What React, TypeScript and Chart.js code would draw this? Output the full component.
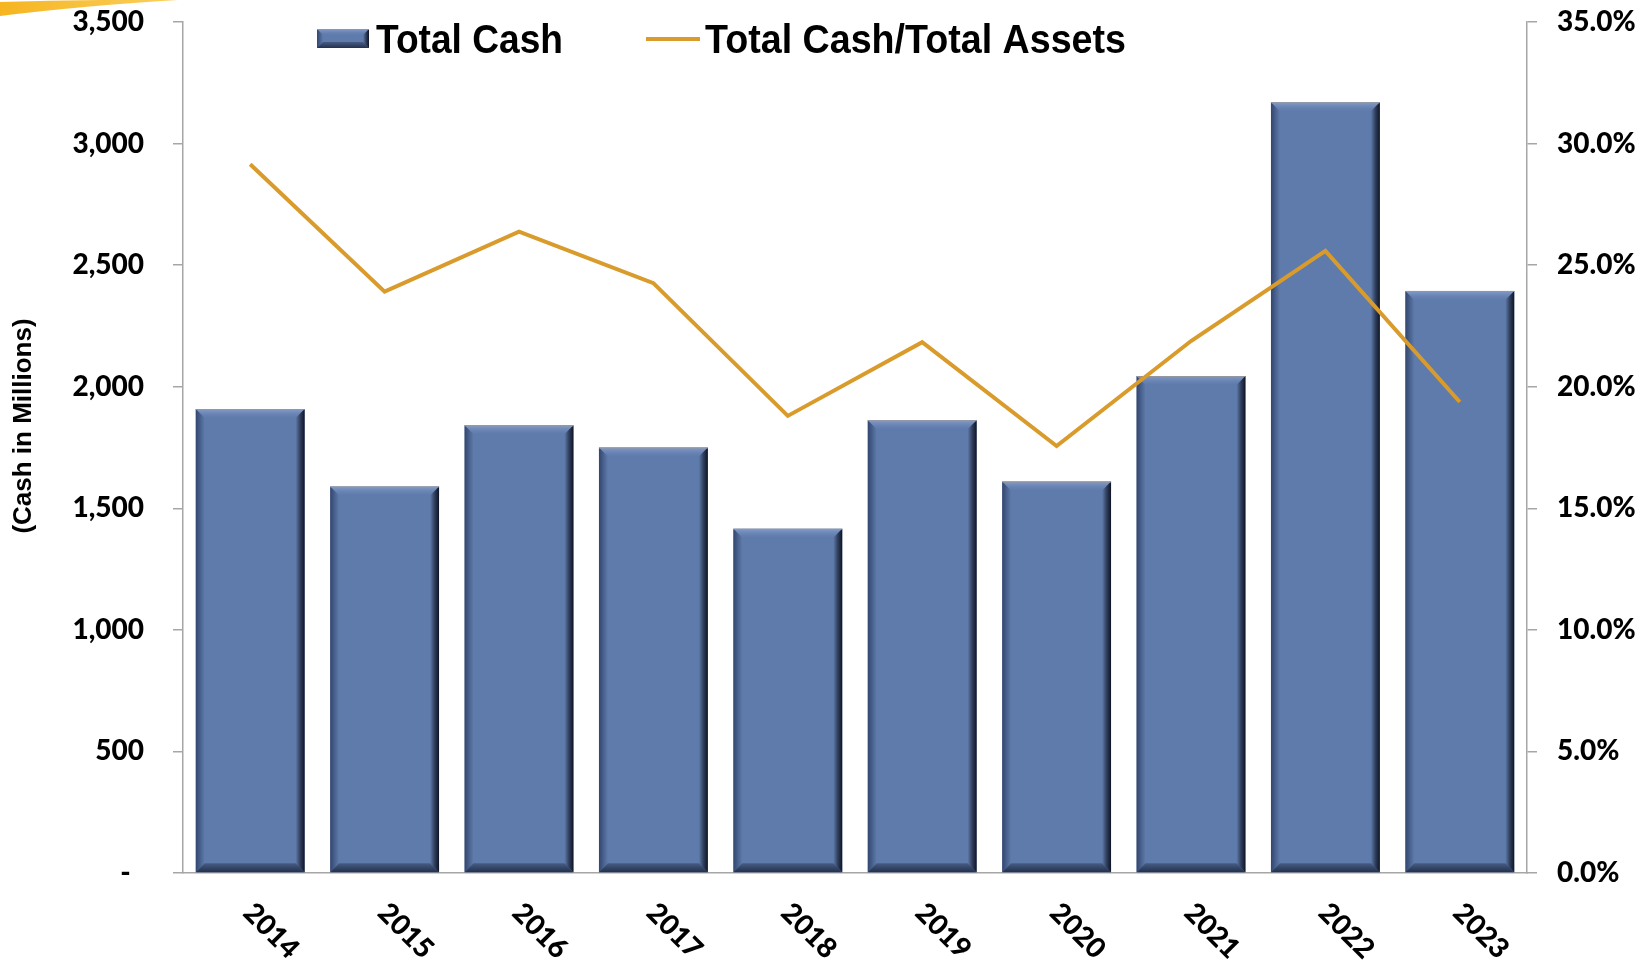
import React, { useEffect, useRef } from 'react';
import { Chart, registerables } from 'chart.js';

Chart.register(...registerables);

const categories = ['2014', '2015', '2016', '2017', '2018', '2019', '2020', '2021', '2022', '2023'];
const totalCash = [1908, 1590, 1841, 1750, 1416, 1862, 1610, 2044, 3170, 2394];
const cashToAssets = [29.15, 23.91, 26.38, 24.26, 18.8, 21.83, 17.56, 21.88, 25.59, 19.37];
const seriesNames = ['Total Cash', 'Total Cash/Total Assets'];
const yAxisTitle = '(Cash in Millions)';

const BAR = '#5F7BAB';
const LINE = '#D99B2B';
const AXIS = '#A6A6A6';
const NUM_FONT = 'Lato';
const NUM_WEIGHT = '900';
const TXT_FONT = '"Liberation Sans", Arial, sans-serif';

function poly(ctx: CanvasRenderingContext2D, pts: number[][], fill: any) {
  ctx.beginPath();
  ctx.moveTo(pts[0][0], pts[0][1]);
  for (let i = 1; i < pts.length; i++) ctx.lineTo(pts[i][0], pts[i][1]);
  ctx.closePath();
  ctx.fillStyle = fill;
  ctx.fill();
}

function bevel(ctx: CanvasRenderingContext2D, l: number, t: number, r: number, btm: number, bw: number) {
  if (![l, t, r, btm].every((v) => Number.isFinite(v))) return;
  const w = r - l;
  const h = btm - t;
  const b = Math.min(bw, w / 2, h / 2);
  ctx.save();
  let g = ctx.createLinearGradient(0, t, 0, t + b);
  g.addColorStop(0, 'rgba(140,162,205,0.85)');
  g.addColorStop(1, 'rgba(110,138,188,0)');
  poly(ctx, [[l, t], [r, t], [r - b, t + b], [l + b, t + b]], g);
  g = ctx.createLinearGradient(l, 0, l + b, 0);
  g.addColorStop(0, 'rgba(35,52,90,0.75)');
  g.addColorStop(1, 'rgba(35,52,90,0)');
  poly(ctx, [[l, t], [l + b, t + b], [l + b, btm - b], [l, btm]], g);
  g = ctx.createLinearGradient(r - b, 0, r, 0);
  g.addColorStop(0, 'rgba(10,15,30,0)');
  g.addColorStop(0.5, 'rgba(10,15,30,0.55)');
  g.addColorStop(1, 'rgba(10,15,30,0.95)');
  poly(ctx, [[r, t], [r, btm], [r - b, btm - b], [r - b, t + b]], g);
  g = ctx.createLinearGradient(0, btm - b, 0, btm);
  g.addColorStop(0, 'rgba(25,35,60,0.35)');
  g.addColorStop(1, 'rgba(25,35,60,0.85)');
  poly(ctx, [[l, btm], [l + b, btm - b], [r - b, btm - b], [r, btm]], g);
  ctx.strokeStyle = 'rgba(150,150,155,0.9)';
  ctx.lineWidth = 1;
  ctx.beginPath();
  ctx.moveTo(l, t + 0.5);
  ctx.lineTo(r, t + 0.5);
  ctx.stroke();
  ctx.restore();
}

const decorPlugin = {
  id: 'decor',
  beforeDraw(chart: any) {
    const ctx: CanvasRenderingContext2D = chart.ctx;
    ctx.save();
    ctx.fillStyle = '#ffffff';
    ctx.fillRect(0, 0, chart.width, chart.height);
    const g = ctx.createLinearGradient(0, 0, 180, 0);
    g.addColorStop(0, '#F6B520');
    g.addColorStop(1, '#FAD060');
    ctx.beginPath();
    ctx.moveTo(0, 2);
    ctx.lineTo(0, 16);
    ctx.quadraticCurveTo(80, 6, 178, 0);
    ctx.lineTo(100, 0);
    ctx.quadraticCurveTo(50, 0.5, 0, 2);
    ctx.closePath();
    ctx.fillStyle = g;
    ctx.fill();
    ctx.restore();
  },
  afterDatasetDraw(chart: any, args: any) {
    const meta = chart.getDatasetMeta(args.index);
    if (meta.type !== 'bar') return;
    const ctx: CanvasRenderingContext2D = chart.ctx;
    meta.data.forEach((el: any) => {
      const p = el.getProps(['x', 'y', 'base', 'width'], true);
      bevel(ctx, p.x - p.width / 2, p.y, p.x + p.width / 2, p.base, 9);
    });
  },
  afterDraw(chart: any) {
    const ctx: CanvasRenderingContext2D = chart.ctx;
    const xs = chart.scales.x;
    ctx.save();
    ctx.fillStyle = '#000';
    ctx.font = `${NUM_WEIGHT} 28px ${NUM_FONT}`;
    ctx.textAlign = 'center';
    ctx.textBaseline = 'middle';
    categories.forEach((c, i) => {
      const x = xs.getPixelForValue(i) + 21;
      ctx.save();
      ctx.translate(x, 931);
      ctx.rotate(Math.PI / 4);
      ctx.fillText(c, 0, 0);
      ctx.restore();
    });
    ctx.save();
    ctx.font = `bold 26px ${TXT_FONT}`;
    ctx.translate(24, 426);
    ctx.rotate(-Math.PI / 2);
    ctx.fillText(yAxisTitle, 0, 0);
    ctx.restore();
    // legend
    ctx.fillStyle = BAR;
    ctx.fillRect(317, 29, 52, 19);
    bevel(ctx, 317, 29, 369, 48, 6);
    ctx.strokeStyle = LINE;
    ctx.lineWidth = 4;
    ctx.beginPath();
    ctx.moveTo(646, 39);
    ctx.lineTo(700, 39);
    ctx.stroke();
    ctx.fillStyle = '#000';
    ctx.textAlign = 'left';
    ctx.textBaseline = 'alphabetic';
    ctx.font = `bold 41px ${TXT_FONT}`;
    const drawSquashed = (txt: string, x: number, target: number) => {
      const w = ctx.measureText(txt).width;
      ctx.save();
      ctx.translate(x, 53);
      ctx.scale(target / w, 1);
      ctx.fillText(txt, 0, 0);
      ctx.restore();
    };
    drawSquashed(seriesNames[0], 376, 187);
    drawSquashed(seriesNames[1], 705, 421);
    ctx.restore();
  },
};

const noPad = (s: any, w: number) => {
  s.width = w;
  s.paddingTop = 0;
  s.paddingBottom = 0;
};

export default function App() {
  const ref = useRef<HTMLCanvasElement | null>(null);
  useEffect(() => {
    document.body.style.margin = '0';
    if (!ref.current) return;
    const chart = new Chart(ref.current, {
      type: 'bar',
      data: {
        labels: categories,
        datasets: [
          {
            type: 'line',
            label: seriesNames[1],
            data: cashToAssets,
            yAxisID: 'y1',
            borderColor: LINE,
            backgroundColor: LINE,
            borderWidth: 4,
            pointRadius: 0,
            tension: 0,
            order: 0,
          } as any,
          {
            type: 'bar',
            label: seriesNames[0],
            data: totalCash,
            yAxisID: 'y',
            backgroundColor: BAR,
            borderWidth: 0,
            barPercentage: 0.81,
            categoryPercentage: 1,
            order: 1,
          },
        ],
      },
      options: {
        responsive: false,
        animation: false,
        devicePixelRatio: 1,
        layout: { padding: { top: 22, left: 0, right: 0, bottom: 0 } },
        plugins: { legend: { display: false }, tooltip: { enabled: false } },
        scales: {
          x: {
            offset: true,
            grid: { display: false },
            border: { display: true, color: AXIS, width: 1.5 },
            ticks: { display: false },
            afterFit: (s: any) => { s.height = 88; s.paddingLeft = 0; s.paddingRight = 0; },
          },
          y: {
            position: 'left',
            min: 0,
            max: 3500,
            ticks: {
              stepSize: 500,
              padding: 29,
              color: '#000',
              font: { family: NUM_FONT, size: 28, weight: NUM_WEIGHT },
              callback: (v: any) => (Number(v) === 0 ? '-  ' : Number(v).toLocaleString('en-US')),
            },
            grid: { drawOnChartArea: false, drawTicks: true, tickLength: 10, color: AXIS, lineWidth: 1.5 },
            border: { display: true, color: AXIS, width: 1.5 },
            afterFit: (s: any) => noPad(s, 183),
          },
          y1: {
            position: 'right',
            min: 0,
            max: 35,
            ticks: {
              stepSize: 5,
              padding: 20,
              color: '#000',
              font: { family: NUM_FONT, size: 28, weight: NUM_WEIGHT },
              callback: (v: any) => Number(v).toFixed(1) + '%',
            },
            grid: { drawOnChartArea: false, drawTicks: true, tickLength: 10, color: AXIS, lineWidth: 1.5 },
            border: { display: true, color: AXIS, width: 1.5 },
            afterFit: (s: any) => noPad(s, 124),
          },
        },
      } as any,
      plugins: [decorPlugin],
    });
    return () => chart.destroy();
  }, []);
  return (
    <div style={{ width: 1651, height: 961 }}>
      <canvas ref={ref} width={1651} height={961} style={{ display: 'block' }} />
    </div>
  );
}
